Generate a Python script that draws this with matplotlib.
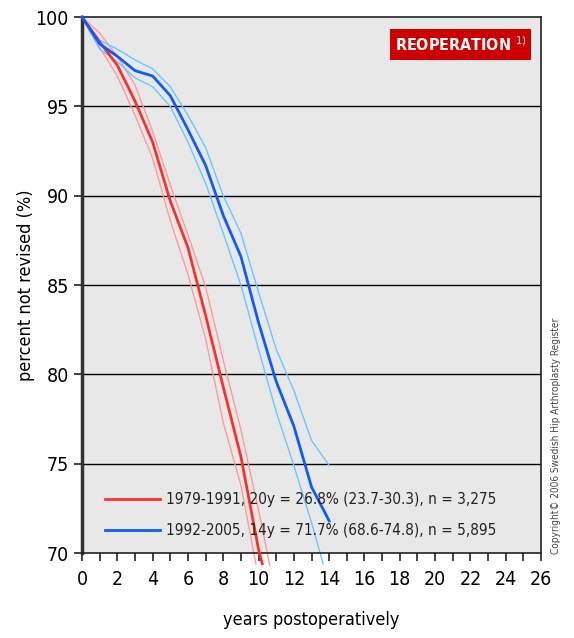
import matplotlib
matplotlib.use("Agg")
import matplotlib.pyplot as plt
from matplotlib.patches import Rectangle

plt.rcParams['font.family'] = ['DejaVu Sans']
plt.rcParams['font.stretch'] = 'condensed'

# 1979-1991 (red): main curve and confidence limits
red_years = [0, 1, 2, 3, 4, 5, 6, 7, 8, 9, 10, 10.21]
red_main = [100, 98.6, 97.3, 95.3, 93.0, 89.7, 87.1, 83.3, 79.3, 75.4, 70.2, 69.4]
red_up_years = [0, 1, 2, 3, 4, 5, 6, 7, 8, 9, 10, 10.64]
red_upper = [100, 99.1, 97.8, 96.2, 93.6, 90.6, 87.8, 84.9, 80.8, 76.9, 72.4, 69.3]
red_lo_years = [0, 1, 2, 3, 4, 5, 6, 7, 8, 9, 9.85]
red_lower = [100, 98.3, 96.7, 94.5, 92.1, 88.6, 85.6, 82.0, 77.3, 73.8, 69.4]

# 1992-2005 (blue)
blue_years = [0, 1, 2, 3, 4, 5, 6, 7, 8, 9, 10, 11, 12, 13, 14]
blue_main = [100, 98.5, 97.8, 97.0, 96.7, 95.6, 93.7, 91.7, 88.9, 86.6, 82.9, 79.6, 77.1, 73.7, 71.8]
blue_upper = [100, 98.7, 98.2, 97.6, 97.1, 96.1, 94.5, 92.7, 90.0, 87.9, 84.6, 81.4, 79.1, 76.3, 74.9]
blue_lo_years = [0, 1, 2, 3, 4, 5, 6, 7, 8, 9, 10, 11, 12, 13, 13.66]
blue_lower = [100, 98.2, 97.5, 96.6, 96.1, 95.0, 93.0, 90.7, 87.9, 85.0, 81.4, 77.9, 74.9, 71.7, 69.4]

red_label = "1979-1991, 20y = 26.8% (23.7-30.3), n = 3,275"
blue_label = "1992-2005, 14y = 71.7% (68.6-74.8), n = 5,895"

fig = plt.figure(figsize=(5.74, 6.38), dpi=100)
ax = fig.add_axes([0.1429, 0.1332, 0.7996, 0.8401])
ax.set_facecolor('#e8e8e8')

for y in [75, 80, 85, 90, 95]:
    ax.axhline(y, color='black', lw=1, zorder=1)

ax.plot(red_up_years, red_upper, color='#ff9a9a', lw=1, clip_on=False, zorder=2)
ax.plot(red_lo_years, red_lower, color='#ff9a9a', lw=1, clip_on=False, zorder=2)
ax.plot(blue_years, blue_upper, color='#66c8ff', lw=1, clip_on=False, zorder=2)
ax.plot(blue_lo_years, blue_lower, color='#66c8ff', lw=1, clip_on=False, zorder=2)
ax.plot(red_years, red_main, color='#ff2e2e', lw=2, clip_on=False, zorder=3, label=red_label)
ax.plot(blue_years, blue_main, color='#0a5cff', lw=2, clip_on=False, zorder=3, label=blue_label)

ax.set_xlim(0, 26)
ax.set_ylim(70, 100)
ax.set_xticks(range(0, 27, 2))
ax.set_xticks(range(0, 27), minor=True)
ax.set_yticks(range(70, 101, 5))
ax.tick_params(axis='both', labelsize=14, length=6, width=1.2, color='#222222')
ax.tick_params(axis='x', which='minor', length=6, width=1.2, color='#222222')
ax.tick_params(axis='x', pad=6)

for s in ['top', 'right', 'bottom']:
    ax.spines[s].set_color('#222222')
    ax.spines[s].set_linewidth(1.2)
ax.spines['left'].set_color('#333333')
ax.spines['left'].set_linewidth(2.5)

ax.set_xlabel('years postoperatively', fontsize=13, labelpad=16)
ax.set_ylabel('percent not revised (%)', fontsize=13, labelpad=0)

leg = ax.legend(loc='lower left', bbox_to_anchor=(0.05, 0.028), frameon=False,
                borderpad=0, borderaxespad=0,
                fontsize=11, handlelength=3.6, handletextpad=0.4, labelspacing=1.05)
for t in leg.get_texts():
    t.set_color('#222222')

# title box
ax.add_patch(Rectangle((0.672, 0.920), 0.307, 0.058, transform=ax.transAxes,
                       facecolor='#cc0000', edgecolor='none', zorder=5))
ax.text(0.825, 0.949, 'REOPERATION $^{1)}$', transform=ax.transAxes, color='white',
        fontsize=11.5, fontweight='bold', ha='center', va='center', zorder=6)

fig.text(0.969, 0.317, 'Copyright\u00a9 2006 Swedish Hip Arthroplasty Register',
         rotation=90, fontsize=7.2, color='#444444', ha='center', va='center')

plt.savefig('out.png', dpi=100)
